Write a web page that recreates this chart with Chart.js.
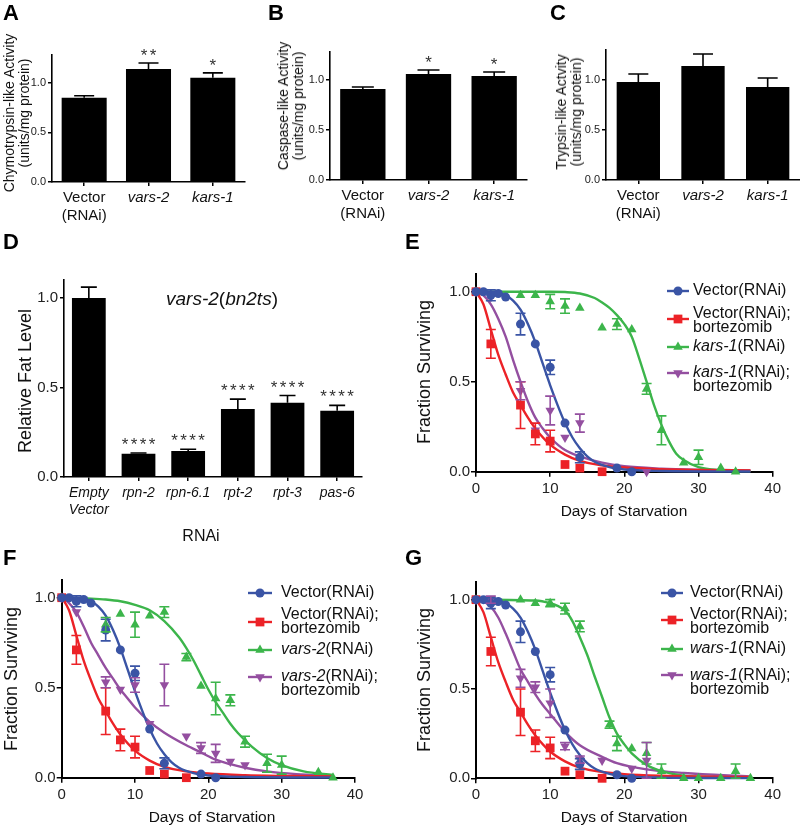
<!DOCTYPE html>
<html><head><meta charset="utf-8">
<script src="https://cdn.jsdelivr.net/npm/chart.js@4.4.1/dist/chart.umd.min.js"></script>
<style>
html,body{margin:0;padding:0;background:#fff;}
body{width:800px;height:828px;position:relative;overflow:hidden;font-family:"Liberation Sans",Arial,Helvetica,sans-serif;color:#111;}
canvas{position:absolute;}
.t{position:absolute;white-space:nowrap;}
.letter{font-weight:bold;font-size:22px;line-height:22px;color:#000;}
.rot{transform:translate(-50%,-50%) rotate(-90deg);text-align:center;}
.ctr{transform:translate(-50%,-50%);text-align:center;}
</style>
</head><body>
<canvas id="cA" width="250" height="230" style="left:0;top:0"></canvas>
<canvas id="cB" width="266" height="230" style="left:262px;top:0"></canvas>
<canvas id="cC" width="265" height="230" style="left:535px;top:0"></canvas>
<canvas id="cD" width="380" height="300" style="left:0;top:240px"></canvas>
<canvas id="cE" width="400" height="290" style="left:400px;top:240px"></canvas>
<canvas id="cF" width="400" height="278" style="left:0;top:550px"></canvas>
<canvas id="cG" width="400" height="278" style="left:400px;top:550px"></canvas>

<div class="t letter" style="left:3px;top:2px">A</div>
<div class="t letter" style="left:268px;top:2px">B</div>
<div class="t letter" style="left:550px;top:2px">C</div>
<div class="t letter" style="left:3px;top:231px">D</div>
<div class="t letter" style="left:405px;top:231px">E</div>
<div class="t letter" style="left:3px;top:547px">F</div>
<div class="t letter" style="left:405px;top:547px">G</div>

<div class="t rot" style="left:16.5px;top:113px;font-size:14px;line-height:15px">Chymotrypsin-like Activity<br>(units/mg protein)</div>
<div class="t rot" style="left:290.5px;top:106px;font-size:14px;line-height:15px">Caspase-like Activity<br>(units/mg protein)</div>
<div class="t rot" style="left:569px;top:112px;font-size:14px;line-height:15px">Trypsin-like Actvity<br>(units/mg protein)</div>
<div class="t rot" style="left:25px;top:381px;font-size:18px;line-height:20px">Relative Fat Level</div>
<div class="t rot" style="left:424px;top:372px;font-size:18px;line-height:20px">Fraction Surviving</div>
<div class="t rot" style="left:11px;top:679px;font-size:18px;line-height:20px">Fraction Surviving</div>
<div class="t rot" style="left:424px;top:680px;font-size:18px;line-height:20px">Fraction Surviving</div>
<div class="t ctr" style="left:201px;top:536px;font-size:16px">RNAi</div>
<div class="t ctr" style="left:624px;top:511px;font-size:15.5px">Days of Starvation</div>
<div class="t ctr" style="left:212px;top:817px;font-size:15.5px">Days of Starvation</div>
<div class="t ctr" style="left:624px;top:817px;font-size:15.5px">Days of Starvation</div>
<div class="t ctr" style="left:222px;top:299px;font-size:19px"><i>vars-2</i>(<i>bn2ts</i>)</div>

<script>
// ================= DATA =================
const barCats = [['Vector', '(RNAi)'], 'vars-2', 'kars-1'];
const chymoVals = [0.85, 1.14, 1.05];
const chymoErr = [0.02, 0.06, 0.05];
const chymoStars = ['', '**', '*'];
const caspVals = [0.91, 1.06, 1.04];
const caspErr = [0.02, 0.04, 0.04];
const caspStars = ['', '*', '*'];
const trypVals = [0.98, 1.14, 0.93];
const trypErr = [0.08, 0.12, 0.09];
const trypStars = ['', '', ''];

const fatCats = [['Empty', 'Vector'], 'rpn-2', 'rpn-6.1', 'rpt-2', 'rpt-3', 'pas-6'];
const fatVals = [1.0, 0.13, 0.145, 0.38, 0.415, 0.37];
const fatErr = [0.06, 0.004, 0.01, 0.055, 0.04, 0.03];
const fatStars = ['', '****', '****', '****', '****', '****'];

const yTicksBar = [0, 0.5, 1.0];
const yTicksSurv = [0, 0.5, 1.0];
const xTicksDays = [0, 10, 20, 30, 40];

// control series (shared by E, F, G)
const vecDays = [0, 1, 2, 3, 4, 6, 8, 10, 12, 14, 19, 21];
const vecSurv = [1.0, 1.0, 0.98, 0.99, 0.97, 0.82, 0.71, 0.58, 0.27, 0.08, 0.02, 0.0];
const vecErr  = [0, 0, 0.03, 0, 0, 0.06, 0, 0.04, 0, 0.03, 0, 0];
const vecFitDays = [0, 2, 3, 4, 5, 6, 7, 8, 9, 10, 11, 12, 13, 14, 15, 16, 18, 20, 25, 37];
const vecFitSurv = [1, 1, 0.995, 0.98, 0.95, 0.9, 0.82, 0.72, 0.6, 0.48, 0.37, 0.27, 0.19, 0.13, 0.085, 0.055, 0.025, 0.012, 0.004, 0.001];

const bortDays = [0, 2, 6, 8, 10, 12, 14, 17];
const bortSurv = [1.0, 0.71, 0.37, 0.21, 0.17, 0.04, 0.02, 0.0];
const bortErr  = [0, 0.08, 0.13, 0.06, 0.06, 0, 0, 0];
const bortFitDays = [0, 1, 2, 3, 4, 5, 6, 7, 8, 10, 12, 14, 17, 20, 25, 30, 37];
const bortFitSurv = [1, 0.93, 0.79, 0.65, 0.54, 0.44, 0.37, 0.3, 0.24, 0.15, 0.095, 0.06, 0.035, 0.023, 0.014, 0.01, 0.007];

// E: kars-1
const karsDays = [0, 6, 8, 10, 12, 14, 17, 19, 21, 23, 25, 28, 30, 33, 35];
const karsSurv = [1.0, 0.98, 0.98, 0.945, 0.92, 0.91, 0.80, 0.82, 0.79, 0.46, 0.23, 0.05, 0.08, 0.02, 0.0];
const karsErr  = [0, 0, 0, 0.04, 0.04, 0, 0, 0.03, 0, 0.03, 0.08, 0, 0.04, 0, 0];
const karsFitDays = [0, 10, 12, 14, 16, 17, 18, 19, 20, 21, 22, 23, 24, 25, 26, 27, 28, 30, 33, 37];
const karsFitSurv = [1, 1, 0.998, 0.99, 0.965, 0.94, 0.91, 0.87, 0.82, 0.75, 0.63, 0.5, 0.37, 0.26, 0.17, 0.1, 0.065, 0.025, 0.008, 0.003];
const karsBortDays = [0, 2, 6, 8, 10, 12, 14, 23];
const karsBortSurv = [1.0, 0.97, 0.45, 0.23, 0.34, 0.19, 0.27, 0.0];
const karsBortErr  = [0, 0, 0.05, 0, 0.08, 0, 0.05, 0];
const karsBortFitDays = [0, 1, 2, 3, 4, 5, 6, 7, 8, 9, 10, 12, 14, 17, 20, 25, 30, 37];
const karsBortFitSurv = [1, 0.98, 0.93, 0.85, 0.75, 0.62, 0.5, 0.39, 0.3, 0.24, 0.19, 0.12, 0.085, 0.05, 0.03, 0.017, 0.011, 0.007];

// F: vars-2
const varsDays = [0, 6, 8, 10, 12, 14, 17, 19, 21, 23, 25, 28, 30, 35, 37];
const varsSurv = [1.0, 0.85, 0.91, 0.85, 0.90, 0.92, 0.67, 0.51, 0.44, 0.43, 0.20, 0.08, 0.07, 0.03, 0.0];
const varsErr  = [0, 0.04, 0, 0.07, 0, 0.03, 0.02, 0, 0.09, 0.03, 0.03, 0.05, 0.05, 0, 0];
const varsFitDays = [0, 4, 6, 8, 10, 12, 14, 16, 17, 18, 19, 20, 21, 22, 23, 24, 26, 28, 30, 33, 37];
const varsFitSurv = [1, 0.995, 0.99, 0.98, 0.96, 0.93, 0.87, 0.78, 0.72, 0.65, 0.57, 0.49, 0.42, 0.36, 0.3, 0.25, 0.17, 0.11, 0.07, 0.035, 0.015];
const varsBortDays = [0, 2, 6, 8, 10, 12, 14, 17, 19, 21, 23, 25];
const varsBortSurv = [1.0, 0.92, 0.53, 0.49, 0.515, 0.30, 0.515, 0.23, 0.165, 0.135, 0.09, 0.07];
const varsBortErr  = [0, 0, 0.03, 0, 0.04, 0, 0.115, 0, 0.03, 0.05, 0, 0];
const varsBortFitDays = [0, 1, 2, 3, 4, 5, 6, 7, 8, 9, 10, 12, 14, 17, 19, 21, 23, 25, 28, 32, 37];
const varsBortFitSurv = [1, 0.97, 0.92, 0.84, 0.75, 0.68, 0.61, 0.55, 0.49, 0.44, 0.39, 0.31, 0.25, 0.18, 0.14, 0.1, 0.075, 0.055, 0.035, 0.02, 0.01];

// G: wars-1
const warsDays = [0, 6, 8, 10, 12, 14, 18, 19, 21, 23, 25, 28, 30, 33, 35, 37];
const warsSurv = [1.0, 1.0, 0.98, 0.98, 0.95, 0.85, 0.30, 0.195, 0.167, 0.14, 0.04, 0.0, 0.0, 0.0, 0.04, 0.0];
const warsErr  = [0, 0, 0, 0.02, 0.03, 0.03, 0.02, 0.04, 0, 0.06, 0.04, 0, 0, 0, 0.04, 0];
const warsFitDays = [0, 8, 10, 11, 12, 13, 14, 15, 16, 17, 18, 19, 20, 21, 23, 25, 28, 32, 37];
const warsFitSurv = [1, 0.995, 0.98, 0.965, 0.94, 0.88, 0.79, 0.69, 0.57, 0.455, 0.34, 0.25, 0.19, 0.14, 0.075, 0.04, 0.015, 0.006, 0.003];
const warsBortDays = [0, 2, 6, 8, 10, 12, 14, 17, 21, 23];
const warsBortSurv = [1.0, 1.0, 0.56, 0.51, 0.42, 0.18, 0.105, 0.10, 0.055, 0.10];
const warsBortErr  = [0, 0.02, 0.05, 0.03, 0.08, 0.02, 0.02, 0, 0, 0.1];
const warsBortFitDays = [0, 1, 2, 3, 4, 5, 6, 7, 8, 9, 10, 12, 14, 17, 19, 23, 28, 37];
const warsBortFitSurv = [1, 0.99, 0.96, 0.9, 0.81, 0.71, 0.61, 0.54, 0.47, 0.41, 0.36, 0.26, 0.185, 0.12, 0.085, 0.05, 0.03, 0.01];

// legend texts: each entry = lines; each line = segments [text, italic]
const legendE = [[[['Vector(RNAi)', 0]]], [[['Vector(RNAi);', 0]], [['bortezomib', 0]]], [[['kars-1', 1], ['(RNAi)', 0]]], [[['kars-1', 1], ['(RNAi);', 0]], [['bortezomib', 0]]]];
const legendF = [[[['Vector(RNAi)', 0]]], [[['Vector(RNAi);', 0]], [['bortezomib', 0]]], [[['vars-2', 1], ['(RNAi)', 0]]], [[['vars-2', 1], ['(RNAi);', 0]], [['bortezomib', 0]]]];
const legendG = [[[['Vector(RNAi)', 0]]], [[['Vector(RNAi);', 0]], [['bortezomib', 0]]], [[['wars-1', 1], ['(RNAi)', 0]]], [[['wars-1', 1], ['(RNAi);', 0]], [['bortezomib', 0]]]];

// ================= STYLE / RENDER =================
const FAM = '"Liberation Sans", Arial, Helvetica, sans-serif';
const COL = {blue: '#3a54a5', red: '#ec2227', green: '#3cb54b', purple: '#944fa0'};
Chart.defaults.font.family = FAM;
Chart.defaults.color = '#111';

const pts = (d, v) => d.map((x, i) => ({x: x, y: v[i]}));

// error bars + significance stars
Chart.register({
  id: 'errBars',
  afterDatasetsDraw(chart) {
    const ctx = chart.ctx, ys = chart.scales.y;
    chart.data.datasets.forEach((ds, di) => {
      if (!ds.errs) return;
      const meta = chart.getDatasetMeta(di);
      ctx.save();
      ctx.strokeStyle = ds.errColor || ds.borderColor;
      ctx.lineWidth = ds.errWidth || 1.6;
      meta.data.forEach((el, i) => {
        const raw = ds.data[i];
        const v = (typeof raw === 'number') ? raw : raw.y;
        const e = ds.errs[i];
        const x = el.x, c = ds.capHalf || 5;
        const yTop = ys.getPixelForValue(v + (e || 0));
        if (e) {
          const yBot = ds.upperOnly ? ys.getPixelForValue(v) : ys.getPixelForValue(v - e);
          ctx.beginPath();
          ctx.moveTo(x, yBot); ctx.lineTo(x, yTop);
          ctx.moveTo(x - c, yTop); ctx.lineTo(x + c, yTop);
          if (!ds.upperOnly) { ctx.moveTo(x - c, yBot); ctx.lineTo(x + c, yBot); }
          ctx.stroke();
        }
        if (ds.stars && ds.stars[i]) {
          const s = ds.stars[i];
          ctx.fillStyle = '#333';
          ctx.font = ds.starSize + 'px ' + FAM;
          ctx.textBaseline = 'alphabetic';
          ctx.textAlign = 'center';
          const step = ds.starStep;
          const x0 = x - step * (s.length - 1) / 2;
          for (let k = 0; k < s.length; k++) ctx.fillText(s[k], x0 + k * step, yTop - ds.starGap);
        }
      });
      ctx.restore();
    });
  }
});

const LEG = {};
Chart.register({
  id: 'legendX',
  afterDraw(chart) {
    const L = LEG[chart.canvas.id];
    if (!L) return;
    const ctx = chart.ctx;
    ctx.save();
    L.items.forEach(it => {
      const ds = chart.data.datasets[it.ds];
      const col = ds.backgroundColor;
      ctx.strokeStyle = col; ctx.lineWidth = 2.4;
      ctx.beginPath(); ctx.moveTo(L.x0, it.ys); ctx.lineTo(L.x1, it.ys); ctx.stroke();
      ctx.fillStyle = col;
      Chart.helpers.drawPoint(ctx, {pointStyle: ds.pointStyle, rotation: ds.pointRotation || 0, radius: ds.pointRadius, borderWidth: 0}, (L.x0 + L.x1) / 2, it.ys);
      ctx.fillStyle = '#111';
      ctx.textBaseline = 'middle'; ctx.textAlign = 'left';
      it.text.forEach((line, li) => {
        let x = L.tx;
        line.forEach(seg => {
          ctx.font = (seg[1] ? 'italic ' : '') + L.size + 'px ' + FAM;
          ctx.fillText(seg[0], x, it.ty[li]);
          x += ctx.measureText(seg[0]).width;
        });
      });
    });
    ctx.restore();
  }
});

function axisGrid(len) {
  return {display: true, drawOnChartArea: false, drawTicks: true, tickLength: len, color: '#000', lineWidth: 1.5, offset: false};
}

function makeBar(id, cats, vals, errs, stars, o) {
  new Chart(document.getElementById(id), {
    type: 'bar',
    data: {labels: cats, datasets: [{
      data: vals, errs: errs, stars: stars, upperOnly: true, capHalf: o.capHalf,
      errColor: '#000', errWidth: 1.6, starSize: o.starSize, starStep: o.starStep, starGap: o.starGap,
      backgroundColor: '#000', borderWidth: 0, barPercentage: o.barPct, categoryPercentage: 1
    }]},
    options: {
      responsive: false, animation: false, devicePixelRatio: 1,
      layout: {padding: {top: o.padTop, right: o.padRight, left: 0, bottom: 0}},
      plugins: {legend: {display: false}, tooltip: {enabled: false}},
      scales: {
        x: {
          offset: true, grid: axisGrid(4), border: {display: true, color: '#000', width: 1.6},
          ticks: {autoSkip: false, maxRotation: 0, minRotation: 0, padding: o.xPad, color: '#111',
            font: (c) => ({family: FAM, size: o.xFont, lineHeight: o.xLH, style: (o.allItalic || c.index > 0) ? 'italic' : 'normal'})},
          afterFit: (s) => { s.height = o.H; }
        },
        y: {
          min: 0, max: o.yMax, grid: axisGrid(4), border: {display: true, color: '#000', width: 1.6},
          ticks: {padding: 2, color: '#222', font: {family: FAM, size: o.yFont}, callback: v => v.toFixed(1)},
          afterBuildTicks: (s) => { s.ticks = yTicksBar.map(v => ({value: v})); },
          afterFit: (s) => { s.width = o.W; }
        }
      }
    }
  });
}

makeBar('cA', barCats, chymoVals, chymoErr, chymoStars, {padTop: 55, padRight: 5, W: 52, H: 48, yMax: 1.28, barPct: 0.7, capHalf: 10, xFont: 15, xLH: 1.2, xPad: 3, yFont: 11, starSize: 17, starStep: 9, starGap: 2});
makeBar('cB', barCats, caspVals, caspErr, caspStars, {padTop: 52, padRight: 1, W: 68, H: 50, yMax: 1.28, barPct: 0.69, capHalf: 11, xFont: 15, xLH: 1.2, xPad: 3, yFont: 11, starSize: 17, starStep: 9, starGap: 2});
makeBar('cC', barCats, trypVals, trypErr, trypStars, {padTop: 50, padRight: 0, W: 71, H: 50, yMax: 1.30, barPct: 0.67, capHalf: 10, xFont: 15, xLH: 1.2, xPad: 3, yFont: 11, starSize: 17, starStep: 9, starGap: 2});
makeBar('cD', fatCats, fatVals, fatErr, fatStars, {padTop: 40, padRight: 18, W: 64, H: 63, yMax: 1.1, barPct: 0.68, capHalf: 8, xFont: 14, xLH: 1.2, xPad: 4, yFont: 15, allItalic: true, starSize: 17, starStep: 9, starGap: 3});

function pointDs(days, vals, errs, col, style, radius, rot) {
  return {data: pts(days, vals), errs: errs, showLine: false, pointStyle: style, pointRadius: radius, pointRotation: rot || 0,
    backgroundColor: col, borderColor: col, borderWidth: 0, clip: false, capHalf: 5, errWidth: 1.6, pointHoverRadius: radius};
}
function curveDs(days, vals, col) {
  return {data: pts(days, vals), showLine: true, pointRadius: 0, borderColor: col, backgroundColor: col, borderWidth: 2.4,
    cubicInterpolationMode: 'monotone', fill: false, clip: false};
}

function makeSurv(id, exp, expBort, o, legendText) {
  const datasets = [
    pointDs(vecDays, vecSurv, vecErr, COL.blue, 'circle', 4.5),
    pointDs(bortDays, bortSurv, bortErr, COL.red, 'rect', 6.2),
    pointDs(exp.d, exp.v, exp.e, COL.green, 'triangle', 5.5),
    pointDs(expBort.d, expBort.v, expBort.e, COL.purple, 'triangle', 5.5, 180),
    curveDs(vecFitDays, vecFitSurv, COL.blue),
    curveDs(bortFitDays, bortFitSurv, COL.red),
    curveDs(exp.fd, exp.fv, COL.green),
    curveDs(expBort.fd, expBort.fv, COL.purple)
  ];
  LEG[id] = {x0: o.lx0, x1: o.lx1, tx: o.ltx, size: 16, items: legendText.map((t, i) => ({ds: i, ys: o.rows[i].s, ty: o.rows[i].t, text: t}))};
  new Chart(document.getElementById(id), {
    type: 'scatter',
    data: {datasets: datasets},
    options: {
      responsive: false, animation: false, devicePixelRatio: 1,
      layout: {padding: {top: o.padTop, right: o.padRight, left: 0, bottom: 0}},
      plugins: {legend: {display: false}, tooltip: {enabled: false}},
      scales: {
        x: {
          type: 'linear', min: 0, max: 40, grid: axisGrid(5), border: {display: true, color: '#000', width: 2},
          ticks: {padding: 3, color: '#222', font: {family: FAM, size: 15}},
          afterBuildTicks: (s) => { s.ticks = xTicksDays.map(v => ({value: v})); },
          afterFit: (s) => { s.height = o.H; }
        },
        y: {
          min: 0, max: 1.1, grid: axisGrid(5), border: {display: true, color: '#000', width: 2},
          ticks: {padding: 1, color: '#222', font: {family: FAM, size: 15}, callback: v => v.toFixed(1)},
          afterBuildTicks: (s) => { s.ticks = yTicksSurv.map(v => ({value: v})); },
          afterFit: (s) => { s.width = o.W; }
        }
      }
    }
  });
}

makeSurv('cE',
  {d: karsDays, v: karsSurv, e: karsErr, fd: karsFitDays, fv: karsFitSurv},
  {d: karsBortDays, v: karsBortSurv, e: karsBortErr, fd: karsBortFitDays, fv: karsBortFitSurv},
  {padTop: 33.7, padRight: 27.3, W: 76, H: 58.3, lx0: 267, lx1: 289, ltx: 293,
   rows: [{s: 51, t: [51]}, {s: 79, t: [74, 88]}, {s: 107, t: [107]}, {s: 133, t: [133, 147]}]},
  legendE);
makeSurv('cF',
  {d: varsDays, v: varsSurv, e: varsErr, fd: varsFitDays, fv: varsFitSurv},
  {d: varsBortDays, v: varsBortSurv, e: varsBortErr, fd: varsBortFitDays, fv: varsBortFitSurv},
  {padTop: 29.7, padRight: 45, W: 61.7, H: 50.3, lx0: 248, lx1: 272, ltx: 281,
   rows: [{s: 43, t: [43]}, {s: 72, t: [64.5, 78.5]}, {s: 100, t: [100]}, {s: 127, t: [127, 141]}]},
  legendF);
makeSurv('cG',
  {d: warsDays, v: warsSurv, e: warsErr, fd: warsFitDays, fv: warsFitSurv},
  {d: warsBortDays, v: warsBortSurv, e: warsBortErr, fd: warsBortFitDays, fv: warsBortFitSurv},
  {padTop: 31.8, padRight: 27.3, W: 76, H: 49.7, lx0: 261, lx1: 283, ltx: 290,
   rows: [{s: 43, t: [43]}, {s: 70, t: [64.5, 78.5]}, {s: 99, t: [99]}, {s: 125, t: [126, 140]}]},
  legendG);
</script>
</body></html>
